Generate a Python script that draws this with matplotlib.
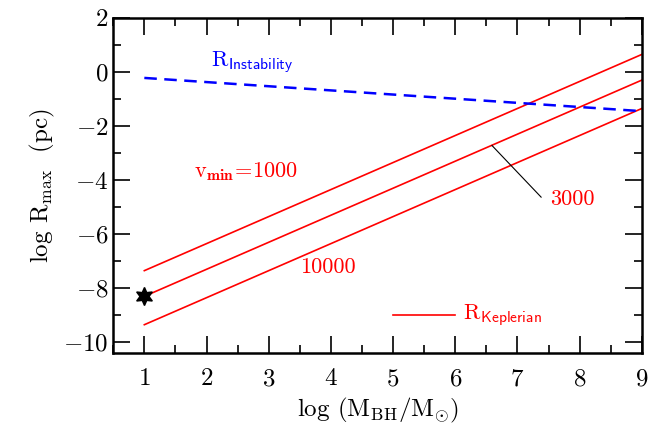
import numpy as np
import matplotlib
matplotlib.use('Agg')
import matplotlib.pyplot as plt
from matplotlib.ticker import MultipleLocator

plt.rcParams['font.family'] = 'serif'
plt.rcParams['font.serif'] = ['cmr10']
plt.rcParams['mathtext.fontset'] = 'cm'
plt.rcParams['axes.formatter.use_mathtext'] = True

# log M_BH/M_sun endpoints and log R_max (pc)
logM = [1, 9]
kep_1000 = [-7.35, 0.65]
kep_3000 = [-8.30, -0.30]
kep_10000 = [-9.35, -1.35]
instability = [-0.22, -1.45]
star_x, star_y = 1, -8.3

fig = plt.figure(figsize=(6.7, 4.37), dpi=100)
ax = fig.add_axes([0.169, 0.192, 0.789, 0.767])

for y in [kep_1000, kep_3000, kep_10000]:
    ax.plot(logM, y, color='red', lw=1.2)
ax.plot(logM, instability, color='blue', lw=1.8, ls=(0, (5, 3)))
ax.plot(star_x, star_y, marker=(6, 1, 0), color='black', ms=13, zorder=5)

# pointer line to 3000 curve
ax.plot([6.59, 7.38], [-2.72, -4.63], color='black', lw=0.8)

ax.plot([5, 6], [-9, -9], color='red', lw=1.2)
ax.text(6.12, -9.0, r'$\mathrm{R}_{\mathsf{Keplerian}}$', color='red', fontsize=16, va='center')
ax.text(2.08, 0.38, r'$\mathrm{R}_{\mathsf{Instability}}$', color='blue', fontsize=16, va='center')
ax.text(1.8, -3.7, r'$\mathrm{v}_{\mathbf{min}}\!=\!1000$', color='red', fontsize=16, va='center')
ax.text(7.52, -4.72, '3000', color='red', fontsize=16, va='center')
ax.text(3.5, -7.22, '10000', color='red', fontsize=16, va='center')

ax.set_xlim(0.5, 9)
ax.set_ylim(-10.4, 2)
ax.xaxis.set_major_locator(MultipleLocator(1))
ax.xaxis.set_minor_locator(MultipleLocator(0.5))
ax.yaxis.set_major_locator(MultipleLocator(2))
ax.yaxis.set_minor_locator(MultipleLocator(1))
ax.tick_params(which='both', direction='in', top=True, right=True, labelsize=18, width=1.2)
ax.tick_params(which='major', length=12)
ax.tick_params(which='minor', length=6)
ax.tick_params(axis='x', which='major', pad=11)
for s in ax.spines.values():
    s.set_linewidth(1.8)

ax.set_xlabel(r'log (M$_{\rm BH}$/M$_{\odot}$)', fontsize=18)
ax.set_ylabel(r'log R$_{\rm max}$  (pc)', fontsize=18)

fig.savefig('out.png', dpi=100)
